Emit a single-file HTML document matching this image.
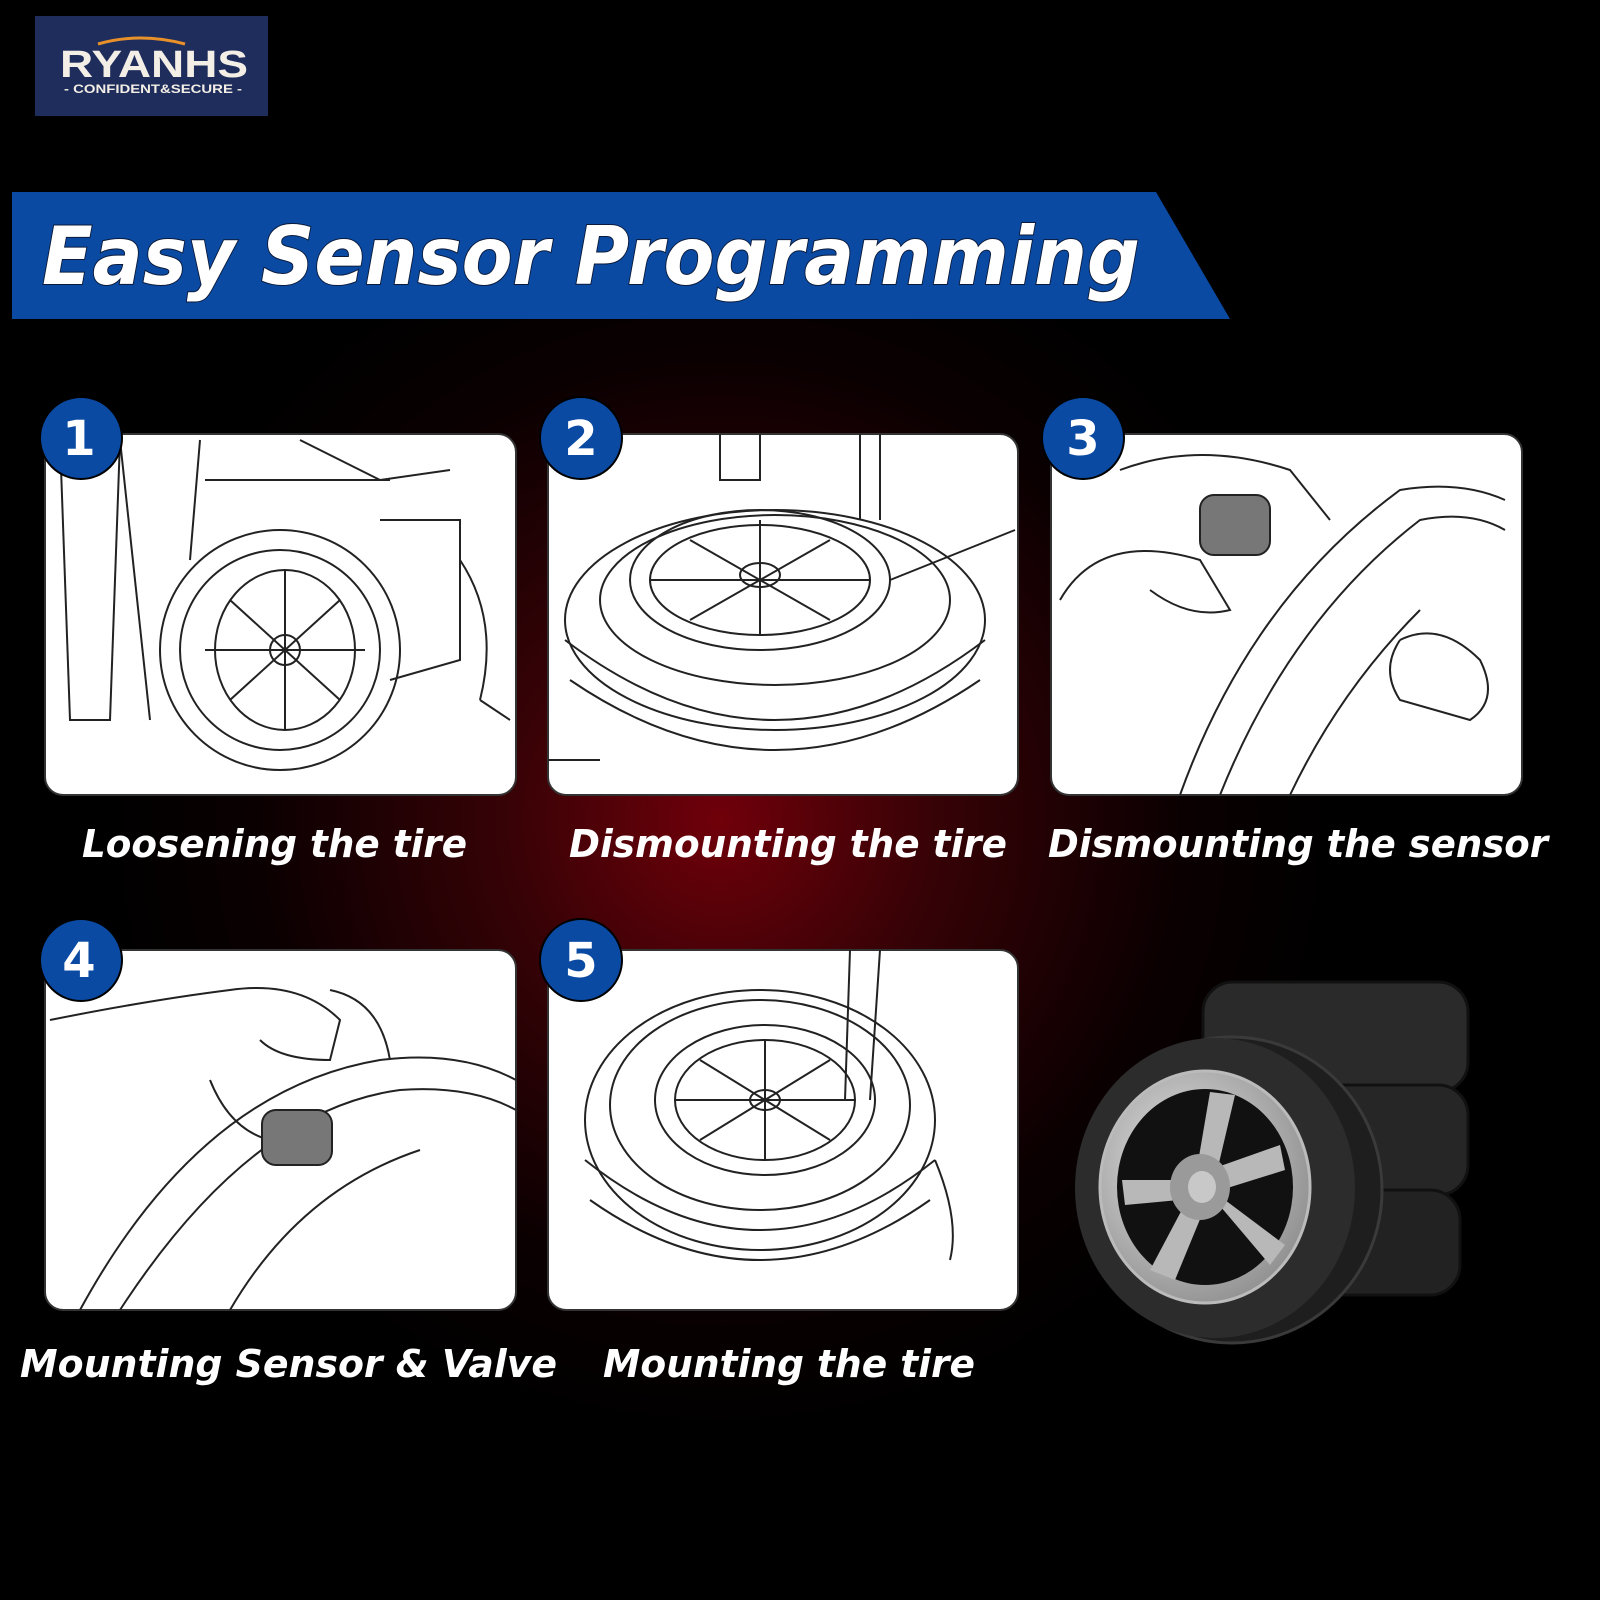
<!DOCTYPE html>
<html><head><meta charset="utf-8"><style>
html,body{margin:0;padding:0;width:1600px;height:1600px;overflow:hidden;background:#000}
svg{display:block}
</style></head><body>
<svg width="1600" height="1600" viewBox="0 0 1600 1600" xmlns="http://www.w3.org/2000/svg">
<defs>
<radialGradient id="bg" cx="720" cy="820" r="620" gradientUnits="userSpaceOnUse">
<stop offset="0" stop-color="#70000a"/><stop offset="0.35" stop-color="#360206"/><stop offset="0.75" stop-color="#0a0001"/><stop offset="1" stop-color="#000"/>
</radialGradient>
<radialGradient id="rim" cx="0.4" cy="0.4" r="0.7"><stop offset="0" stop-color="#e4e4e4"/><stop offset="1" stop-color="#8a8a8a"/></radialGradient>
</defs>
<rect width="1600" height="1600" fill="#000"/>
<rect width="1600" height="1600" fill="url(#bg)"/>
<!-- logo -->
<rect x="35" y="16" width="233" height="100" fill="#1f2d5c"/>
<path d="M98 44 Q140 32 185 44" stroke="#e8902a" stroke-width="3" fill="none"/>
<text x="60" y="77" textLength="188" lengthAdjust="spacingAndGlyphs" font-family="Liberation Sans,sans-serif" font-weight="bold" font-size="38" fill="#f4efe6">RYANHS</text>
<text x="64" y="93" textLength="178" lengthAdjust="spacingAndGlyphs" font-family="Liberation Sans,sans-serif" font-weight="bold" font-size="12" fill="#f4efe6">- CONFIDENT&amp;SECURE -</text>
<!-- banner -->
<polygon points="12,192 1156,192 1230,319 12,319" fill="#0a4aa3"/>
<text x="42" y="284" textLength="1098" lengthAdjust="spacingAndGlyphs" font-family="DejaVu Sans,Liberation Sans,sans-serif" font-weight="bold" font-style="italic" font-size="80" fill="#fff" stroke="#0b1a3a" stroke-width="2" paint-order="stroke">Easy Sensor Programming</text>
<!-- panels -->
<g fill="#fff" stroke="#333" stroke-width="2">
<rect x="45" y="434" width="471" height="361" rx="18"/>
<rect x="548" y="434" width="470" height="361" rx="18"/>
<rect x="1051" y="434" width="471" height="361" rx="18"/>
<rect x="45" y="950" width="471" height="360" rx="18"/>
<rect x="548" y="950" width="470" height="360" rx="18"/>
</g>
<!-- sketches -->
<g fill="none" stroke="#222" stroke-width="2">
<ellipse cx="280" cy="650" rx="120" ry="120"/><ellipse cx="280" cy="650" rx="100" ry="100"/><ellipse cx="285" cy="650" rx="70" ry="80"/><circle cx="285" cy="650" r="15"/>
<path d="M60 440 L70 720 L110 720 L120 440 M120 440 L150 720 M200 440 L190 560 M300 440 L380 480 L450 470 M380 520 L460 520 L460 660 L390 680 M460 560 Q500 620 480 700 M480 700 L510 720 M205 480 L390 480"/>
<path d="M285 570 L285 730 M205 650 L365 650 M230 600 L340 700 M340 600 L230 700"/>
<ellipse cx="775" cy="620" rx="210" ry="110"/><ellipse cx="775" cy="600" rx="175" ry="85"/><ellipse cx="760" cy="580" rx="130" ry="70"/><ellipse cx="760" cy="580" rx="110" ry="55"/><ellipse cx="760" cy="575" rx="20" ry="12"/>
<path d="M565 640 Q775 800 985 640 M570 680 Q775 820 980 680 M860 434 L860 520 M880 434 L880 520 M890 580 L1015 530 M600 760 L548 760 M720 434 L720 480 L760 480 L760 434"/>
<path d="M760 520 L760 635 M650 580 L870 580 M690 540 L830 620 M830 540 L690 620"/>
<path d="M1060 600 Q1100 530 1200 560 L1230 610 Q1190 620 1150 590 M1120 470 Q1200 440 1290 470 L1330 520 M1180 795 Q1250 600 1400 490 Q1460 480 1505 500 M1220 795 Q1290 620 1420 520 Q1470 510 1505 530 M1290 795 Q1340 690 1420 610 M1400 640 Q1440 620 1480 660 Q1500 700 1470 720 L1400 700 Q1380 670 1400 640"/>
<rect x="1200" y="495" width="70" height="60" rx="14" fill="#777"/>
<path d="M50 1020 Q150 1000 230 990 Q300 980 340 1020 L330 1060 Q280 1060 260 1040 M210 1080 Q230 1130 270 1140 M80 1310 Q200 1090 380 1060 Q460 1050 516 1080 M120 1310 Q250 1110 400 1090 Q470 1085 516 1110 M230 1310 Q300 1190 420 1150 M330 990 Q380 1000 390 1060"/>
<rect x="262" y="1110" width="70" height="55" rx="14" fill="#777"/>
<ellipse cx="760" cy="1120" rx="175" ry="130"/><ellipse cx="760" cy="1105" rx="150" ry="105"/><ellipse cx="765" cy="1100" rx="110" ry="75"/><ellipse cx="765" cy="1100" rx="90" ry="60"/><ellipse cx="765" cy="1100" rx="15" ry="10"/>
<path d="M585 1160 Q760 1300 935 1160 M590 1200 Q760 1320 930 1200 M850 950 L845 1100 M880 950 L870 1100 M935 1160 Q960 1220 950 1260"/>
<path d="M765 1040 L765 1160 M675 1100 L855 1100 M700 1060 L830 1140 M830 1060 L700 1140"/>
</g>
<!-- number circles -->
<g font-family="DejaVu Sans,Liberation Sans,sans-serif" font-weight="bold" font-size="48" fill="#fff" text-anchor="middle">
<circle cx="81" cy="438" r="41" fill="#0a4aa3" stroke="#000" stroke-width="2"/><text x="79" y="455">1</text>
<circle cx="581" cy="438" r="41" fill="#0a4aa3" stroke="#000" stroke-width="2"/><text x="581" y="455">2</text>
<circle cx="1083" cy="438" r="41" fill="#0a4aa3" stroke="#000" stroke-width="2"/><text x="1083" y="455">3</text>
<circle cx="81" cy="960" r="41" fill="#0a4aa3" stroke="#000" stroke-width="2"/><text x="79" y="977">4</text>
<circle cx="581" cy="960" r="41" fill="#0a4aa3" stroke="#000" stroke-width="2"/><text x="581" y="977">5</text>
</g>
<!-- labels -->
<g font-family="DejaVu Sans,Liberation Sans,sans-serif" font-weight="bold" font-style="italic" font-size="38" fill="#fff">
<text x="82" y="857" textLength="385" lengthAdjust="spacingAndGlyphs">Loosening the tire</text>
<text x="569" y="857" textLength="438" lengthAdjust="spacingAndGlyphs">Dismounting the tire</text>
<text x="1048" y="857" textLength="500" lengthAdjust="spacingAndGlyphs">Dismounting the sensor</text>
<text x="20" y="1377" textLength="537" lengthAdjust="spacingAndGlyphs">Mounting Sensor &amp; Valve</text>
<text x="603" y="1377" textLength="372" lengthAdjust="spacingAndGlyphs">Mounting the tire</text>
</g>
<!-- tire stack -->
<g>
<rect x="1203" y="982" width="265" height="110" rx="30" fill="#2a2a2a" stroke="#111" stroke-width="3"/>
<rect x="1203" y="1085" width="265" height="110" rx="30" fill="#262626" stroke="#111" stroke-width="3"/>
<rect x="1220" y="1190" width="240" height="105" rx="30" fill="#222" stroke="#111" stroke-width="3"/>
<ellipse cx="1232" cy="1190" rx="150" ry="153" fill="#1e1e1e" stroke="#3a3a3a" stroke-width="3"/>
<ellipse cx="1215" cy="1188" rx="140" ry="150" fill="#2c2c2c"/>
<ellipse cx="1205" cy="1187" rx="105" ry="116" fill="url(#rim)" stroke="#bbb" stroke-width="3"/>
<ellipse cx="1205" cy="1187" rx="88" ry="98" fill="#111"/>
<g fill="#b8b8b8">
<polygon points="1195,1180 1215,1180 1235,1095 1210,1092"/>
<polygon points="1195,1175 1205,1195 1285,1170 1280,1145"/>
<polygon points="1205,1185 1215,1200 1270,1265 1285,1245"/>
<polygon points="1195,1185 1210,1195 1175,1280 1150,1270"/>
<polygon points="1195,1180 1200,1198 1125,1205 1122,1180"/>
</g>
<ellipse cx="1200" cy="1187" rx="30" ry="33" fill="#9a9a9a"/>
<ellipse cx="1202" cy="1187" rx="14" ry="16" fill="#c8c8c8"/>
</g>
</svg>
</body></html>
